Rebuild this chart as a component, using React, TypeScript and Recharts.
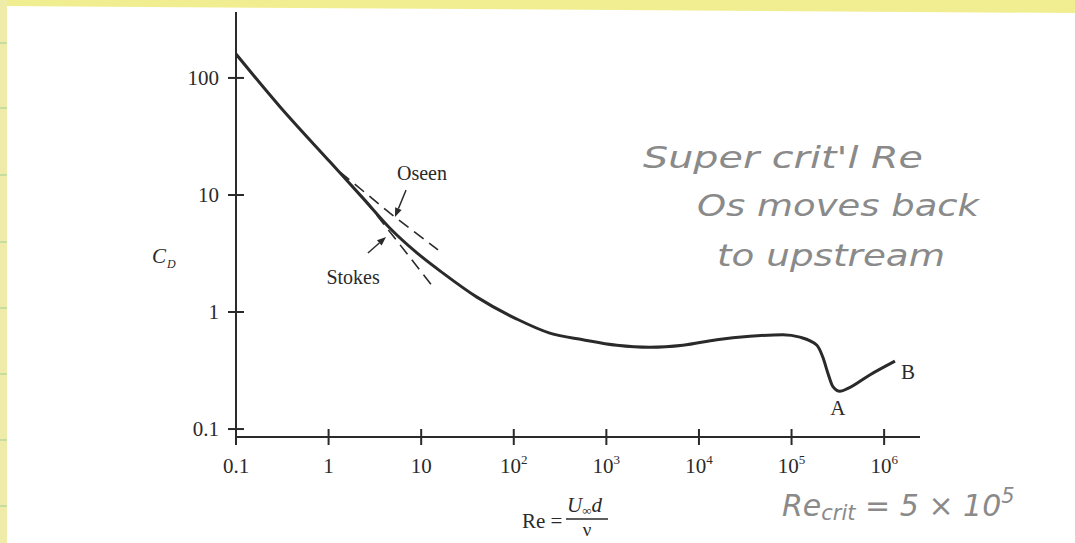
import React from 'react';
import { LineChart, Line, XAxis, YAxis, ReferenceLine, ReferenceDot } from 'recharts';

// drag coefficient vs Reynolds number (log-log)
const curveRe = [0.1, 0.3, 1.04, 2.35, 4.6, 9.0, 17.2, 40, 108, 245, 558, 1300, 2950, 6700, 15600, 35500, 80700, 1.23e5, 1.88e5, 2.18e5, 2.47e5, 2.8e5, 3.33e5, 3.96e5, 7.0e5, 1.31e6];
const curveCd = [160, 56.5, 19.1, 9.4, 5.2, 3.2, 2.15, 1.34, 0.87, 0.66, 0.58, 0.52, 0.5, 0.52, 0.58, 0.62, 0.64, 0.61, 0.52, 0.41, 0.3, 0.23, 0.21, 0.22, 0.29, 0.38];

// low-Re approximations (dashed)
const oseenRe = [1.33, 4.6, 15.2];
const oseenCd = [15.7, 7.0, 3.39];
const stokesRe = [2.47, 13.4];
const stokesCd = [9.06, 1.64];

const reTicks = [0.1, 1, 10, 100, 1e3, 1e4, 1e5, 1e6];
const reTickBase = ['0.1', '1', '10', '10', '10', '10', '10', '10'];
const reTickExp = ['', '', '', '2', '3', '4', '5', '6'];
const cdTicks = [0.1, 1, 10, 100];
const cdTickLabels = ['0.1', '1', '10', '100'];

const noteText = ['Oseen', 'Stokes', 'A', 'B'];
const noteRe = [10.2, 1.84, 3.17e5, 1.81e6];
const noteCd = [15.4, 1.99, 0.151, 0.307];

const arrowFromRe = [6.86, 2.66];
const arrowFromCd = [11.0, 3.19];
const arrowToRe = [5.21, 4.17];
const arrowToCd = [6.49, 4.38];

const handNotes = ["Super crit'l Re", 'Os moves back', 'to upstream'];

const ink = '#2a2a2a';
const pencil = '#8a8a8a';
const serif = '"Liberation Serif", "DejaVu Serif", serif';
const hand = '"DejaVu Sans", sans-serif';

const toPoints = (xs: number[], ys: number[]) => xs.map((re, i) => ({ re, cd: ys[i] }));

function ReTick({ x, y, index }: any) {
  return (
    <g>
      <line x1={x} x2={x} y1={index === 0 ? y : y - 8} y2={y + 8} stroke={ink} strokeWidth={2} />
      <text x={x} y={y + 36} textAnchor="middle" fontFamily={serif} fontSize={21} fill={ink}>
        {reTickBase[index]}
        {reTickExp[index] && (
          <tspan dy={-9} fontSize={13}>
            {reTickExp[index]}
          </tspan>
        )}
      </text>
    </g>
  );
}

function CdTick({ x, y, index }: any) {
  return (
    <g>
      <line x1={x - 8} x2={x + 8} y1={y} y2={y} stroke={ink} strokeWidth={2} />
      <text x={x - 17} y={y + 7} textAnchor="end" fontFamily={serif} fontSize={21} fill={ink}>
        {cdTickLabels[index]}
      </text>
    </g>
  );
}

function Arrow({ x1, y1, x2, y2 }: any) {
  const a = Math.atan2(y2 - y1, x2 - x1);
  const bx = x2 - 9 * Math.cos(a);
  const by = y2 - 9 * Math.sin(a);
  const nx = -Math.sin(a) * 3.5;
  const ny = Math.cos(a) * 3.5;
  return (
    <g>
      <line x1={x1} y1={y1} x2={bx} y2={by} stroke={ink} strokeWidth={1.4} />
      <polygon points={`${x2},${y2} ${bx + nx},${by + ny} ${bx - nx},${by - ny}`} fill={ink} />
    </g>
  );
}

export default function App() {
  return (
    <div style={{ position: 'absolute', left: 0, top: 0, width: 1075, height: 543, background: '#fff', overflow: 'hidden' }}>
      <svg width={1075} height={543} style={{ position: 'absolute', left: 0, top: 0 }}>
        <polygon points="0,0 1075,0 1075,13 0,6" fill="#f1ee91" />
        <rect x={0} y={0} width={7} height={543} fill="#eeeca8" />
        {[43, 108, 175, 242, 308, 374, 440, 506].map((gy) => (
          <line key={gy} x1={0} x2={7} y1={gy} y2={gy} stroke="#9fcf9a" strokeWidth={1} />
        ))}
      </svg>

      <div style={{ position: 'absolute', left: 0, top: 0 }}>
        <LineChart width={1075} height={543} margin={{ top: 12, right: 155, bottom: 0, left: 0 }}>
          <XAxis
            type="number"
            dataKey="re"
            scale="log"
            domain={[0.1, 2.44e6]}
            allowDataOverflow
            ticks={reTicks}
            tick={<ReTick />}
            tickLine={false}
            tickSize={0}
            tickMargin={0}
            height={106}
            axisLine={{ stroke: ink, strokeWidth: 2 }}
          />
          <YAxis
            type="number"
            dataKey="cd"
            scale="log"
            domain={[0.0855, 366]}
            allowDataOverflow
            ticks={cdTicks}
            tick={<CdTick />}
            tickLine={false}
            tickSize={0}
            tickMargin={0}
            width={236}
            axisLine={{ stroke: ink, strokeWidth: 2 }}
          />
          <Line
            data={toPoints(oseenRe, oseenCd)}
            dataKey="cd"
            type="linear"
            stroke={ink}
            strokeWidth={1.6}
            strokeDasharray="12 7"
            dot={false}
            activeDot={false}
            isAnimationActive={false}
          />
          <Line
            data={toPoints(stokesRe, stokesCd)}
            dataKey="cd"
            type="linear"
            stroke={ink}
            strokeWidth={1.6}
            strokeDasharray="12 7"
            dot={false}
            activeDot={false}
            isAnimationActive={false}
          />
          <Line
            data={toPoints(curveRe, curveCd)}
            dataKey="cd"
            type="monotone"
            stroke={ink}
            strokeWidth={3}
            dot={false}
            activeDot={false}
            isAnimationActive={false}
          />
          {arrowFromRe.map((re, i) => (
            <ReferenceLine
              key={'arr' + i}
              segment={[
                { x: re, y: arrowFromCd[i] },
                { x: arrowToRe[i], y: arrowToCd[i] },
              ]}
              shape={(p: any) => <Arrow {...p} />}
            />
          ))}
          {noteText.map((t, i) => (
            <ReferenceDot
              key={t}
              x={noteRe[i]}
              y={noteCd[i]}
              r={0}
              shape={(p: any) => (
                <text
                  x={p.cx}
                  y={p.cy}
                  textAnchor="middle"
                  dominantBaseline="central"
                  fontFamily={serif}
                  fontSize={t.length > 1 ? 20 : 21}
                  fill={ink}
                >
                  {t}
                </text>
              )}
            />
          ))}
        </LineChart>
      </div>

      <svg width={1075} height={543} style={{ position: 'absolute', left: 0, top: 0, pointerEvents: 'none' }}>
        {/* axis titles */}
        <text x={152} y={263} fontFamily={serif} fontStyle="italic" fontSize={21} fill={ink}>
          C
        </text>
        <text x={167} y={268} fontFamily={serif} fontStyle="italic" fontSize={12} fill={ink}>
          D
        </text>
        <text x={522} y={528} fontFamily={serif} fontSize={21} fill={ink}>
          Re =
        </text>
        <text x={567} y={512} fontFamily={serif} fontStyle="italic" fontSize={21} fill={ink}>
          U
          <tspan dy={3} fontStyle="normal" fontSize={13}>
            ∞
          </tspan>
          <tspan dy={-3}>d</tspan>
        </text>
        <line x1={566} x2={608} y1={519} y2={519} stroke={ink} strokeWidth={1.3} />
        <text x={587} y={536} textAnchor="middle" fontFamily={serif} fontSize={19} fill={ink}>
          ν
        </text>

        {/* pencil notes */}
        <text x={643} y={168} fontFamily={hand} fontStyle="italic" fontSize={30} fill={pencil} textLength={280} lengthAdjust="spacingAndGlyphs">
          {handNotes[0]}
        </text>
        <text x={697} y={216} fontFamily={hand} fontStyle="italic" fontSize={30} fill={pencil} textLength={282} lengthAdjust="spacingAndGlyphs">
          {handNotes[1]}
        </text>
        <text x={717} y={266} fontFamily={hand} fontStyle="italic" fontSize={30} fill={pencil} textLength={228} lengthAdjust="spacingAndGlyphs">
          {handNotes[2]}
        </text>
        <text x={782} y={516} fontFamily={hand} fontStyle="italic" fontSize={30} fill={pencil}>
          Re
          <tspan dy={4} fontSize={21}>
            crit
          </tspan>
          <tspan dy={-4}> = 5 × 10</tspan>
          <tspan dy={-13} fontSize={21}>
            5
          </tspan>
        </text>
      </svg>
    </div>
  );
}
